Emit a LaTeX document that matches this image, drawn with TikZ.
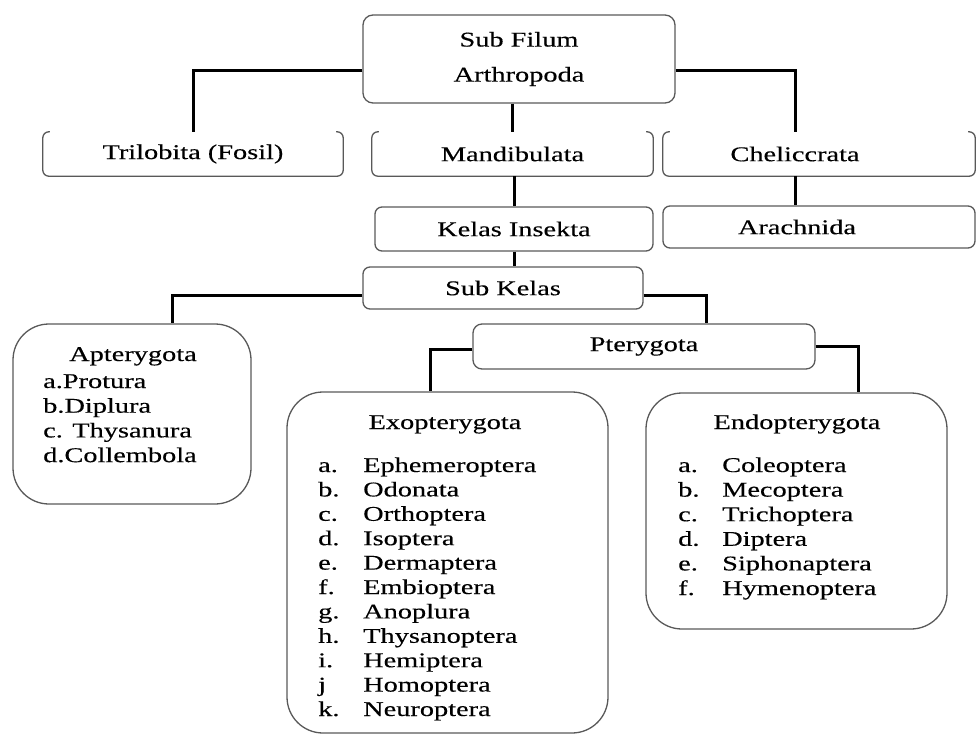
\documentclass[tikz,border=0pt]{standalone}
\usepackage{fontspec}
\setmainfont{Liberation Serif}[FakeStretch=1.35, FakeBold=0.3]
\usepackage{tikz}
\usetikzlibrary{positioning}

\begin{document}
\begin{tikzpicture}[x=1pt, y=-1pt,
        every node/.style={font=\fontsize{21}{24}\selectfont, text=black, inner sep=0pt},
        frame/.style={draw=black!65, line width=1.3pt},
        smallbox/.style={frame, rounded corners=7pt},
        bigbox/.style={frame, rounded corners=36pt},
        link/.style={line width=3pt, black}]
        \useasboundingbox (0,0) rectangle (977,735);

        % Sub Filum
        \node[smallbox, rounded corners=10pt, minimum width=312pt, minimum height=88pt, align=center,
              font=\fontsize{21}{35}\selectfont] (filum) at (519,59) {Sub Filum\\Arthropoda};

        % Second row (open at the top)
        \node[minimum width=300pt, minimum height=44pt] (trilo) at (193,154) {Trilobita (Fosil)};
        \node[minimum width=281pt, minimum height=44pt] (mandi) at (512.5,154) {Mandibulata};
        \node[minimum width=312pt, minimum height=44pt] (chelbox) at (819,154) {};
        \node (chel) at (795,154) {Cheliccrata};
        \foreach \b in {trilo,mandi,chelbox}
          \draw[frame, rounded corners=6pt] ([xshift=7pt]\b.north west) -- (\b.north west) -- (\b.south west)
            -- (\b.south east) -- (\b.north east) -- ([xshift=-7pt]\b.north east);

        % Kelas
        \node[smallbox, minimum width=278pt, minimum height=44pt] (insekta) at (514,229) {Kelas Insekta};
        \node[smallbox, minimum width=312pt, minimum height=42pt] (arachbox) at (819,227) {};
        \node (arach) at (797,227) {Arachnida};

        % Sub Kelas
        \node[smallbox, minimum width=280pt, minimum height=42pt] (subkelas) at (503,288) {Sub Kelas};
        \node[smallbox, rounded corners=9pt, minimum width=342pt, minimum height=45pt] (ptery) at (644,346.5) {Pterygota};

        % Big boxes
        \node[bigbox, minimum width=238pt, minimum height=180pt] (aptery) at (132,414) {};
        \node[bigbox, minimum width=321pt, minimum height=341pt] (exo) at (447.5,562.5) {};
        \node[bigbox, minimum width=301pt, minimum height=236pt] (endo) at (796.5,511) {};

        \node[anchor=base] (apttitle) at (133,361) {Apterygota};
        \node[anchor=base] (exotitle) at (445,429) {Exopterygota};
        \node[anchor=base] (endotitle) at (797,429) {Endopterygota};

        % Orders
        \foreach \n [count=\i] in {a.Protura, b.Diplura, c. Thysanura, d.Collembola}
          \node[anchor=base west] (apt\i) at (43,{388+24.7*(\i-1)}) {\n};
        \foreach \l/\n [count=\i] in {a./Ephemeroptera, b./Odonata, c./Orthoptera, d./Isoptera,
            e./Dermaptera, f./Embioptera, g./Anoplura, h./Thysanoptera, i./Hemiptera, j/Homoptera, k./Neuroptera} {
          \node[anchor=base west] (exol\i) at (318,{472+24.4*(\i-1)}) {\l};
          \node[anchor=base west] (exon\i) at (363,{472+24.4*(\i-1)}) {\n};
        }
        \foreach \l/\n [count=\i] in {a./Coleoptera, b./Mecoptera, c./Trichoptera, d./Diptera,
            e./Siphonaptera, f./Hymenoptera} {
          \node[anchor=base west] (endol\i) at (678,{472+24.6*(\i-1)}) {\l};
          \node[anchor=base west] (endon\i) at (722,{472+24.6*(\i-1)}) {\n};
        }

        % Connectors
        \draw[link] ([yshift=-12pt]filum.west) -| (trilo.north);
        \draw[link] ([yshift=-12pt]filum.east) -| (chel.north |- chelbox.north);
        \draw[link] (mandi.north |- filum.south) -- (mandi.north);
        \draw[link] (mandi.south -| insekta.north) -- (insekta.north);
        \draw[link] (chel.south |- chelbox.south) -- (chel.south |- arachbox.north);
        \draw[link] (insekta.south) -- (insekta.south |- subkelas.north);
        \draw[link] ([yshift=-8pt]subkelas.west) -| ([xshift=40pt]aptery.north);
        \draw[link] ([yshift=-8pt]subkelas.east) -| ([xshift=62pt]ptery.north);
        \draw[link] ([yshift=-3pt]ptery.west) -| ([xshift=-17.5pt]exo.north);
        \draw[link] (ptery.east) -| ([xshift=61.5pt]endo.north);
      \end{tikzpicture}
\end{document}
